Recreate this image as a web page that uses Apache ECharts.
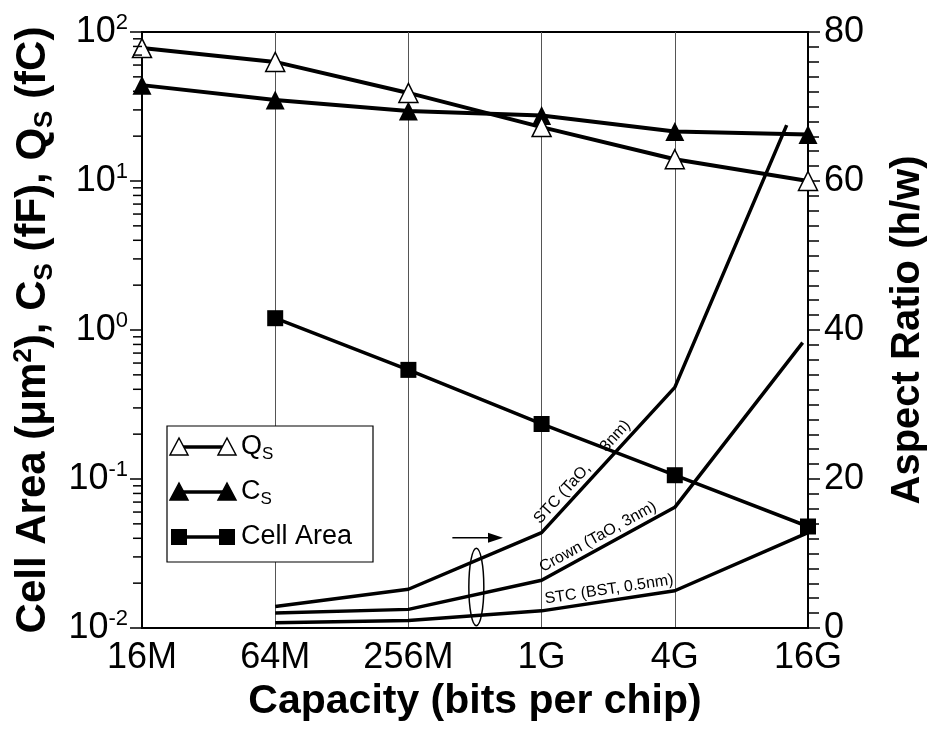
<!DOCTYPE html>
<html>
<head>
<meta charset="utf-8">
<script src="https://cdn.jsdelivr.net/npm/echarts@6/dist/echarts.min.js"></script>
<style>
html, body { margin: 0; padding: 0; background: #fff; }
#chart { width: 947px; height: 739px; }
</style>
</head>
<body>
<div id="chart"></div>
<script>
// Capacity generations along the x axis (placed at integer positions 0..5)
const capacity = ['16M', '64M', '256M', '1G', '4G', '16G'];
const capacityPos = [0, 1, 2, 3, 4, 5];

// Left (log) axis series
const qsValues = [78, 63, 39, 23, 14, 10];          // Qs (fC)
const csValues = [44, 35, 29.5, 27.5, 21.5, 20.5];  // Cs (fF)
const cellAreaPos = [1, 2, 3, 4, 5];
const cellAreaValues = [1.2, 0.54, 0.234, 0.106, 0.048]; // um^2

// Right axis: aspect ratio (h/w) of the storage capacitor
const stcTaoPos = [1, 2, 3, 4, 4.84];
const stcTaoAspect = [2.9, 5.2, 12.8, 32.3, 67.5];
const crownPos = [1, 2, 3, 4, 4.96];
const crownAspect = [2.0, 2.5, 6.4, 16.2, 38.3];
const stcBstPos = [1, 2, 3, 4, 5];
const stcBstAspect = [0.7, 1.0, 2.3, 5.0, 12.8];

// Tick values
const leftTicks = [0.01, 0.1, 1, 10, 100];
const rightTicks = [0, 20, 40, 60, 80];

const FONT = "'Liberation Sans', Arial, Helvetica, sans-serif";
const pairs = (xs, ys) => xs.map((x, i) => [x, ys[i]]);

const chart = echarts.init(document.getElementById('chart'));

const option = {
  animation: false,
  backgroundColor: '#fff',
  grid: {
    left: 142, right: 139, top: 32, bottom: 111,
    show: true, borderColor: '#000', borderWidth: 2, backgroundColor: 'transparent'
  },
  xAxis: {
    type: 'value',
    min: capacityPos[0], max: capacityPos[capacityPos.length - 1], interval: 1,
    name: 'Capacity (bits per chip)',
    nameLocation: 'middle',
    nameGap: 42,
    nameTextStyle: { fontFamily: FONT, fontSize: 41, fontWeight: 'bold', color: '#000' },
    axisLine: { show: true, lineStyle: { color: '#000', width: 2 } },
    axisTick: { show: false },
    axisLabel: {
      margin: 12, fontFamily: FONT, fontSize: 36, color: '#000',
      formatter: v => capacity[Math.round(v)]
    },
    splitLine: { show: true, lineStyle: { color: '#555', width: 1 } }
  },
  yAxis: [
    {
      type: 'log', logBase: 10,
      min: leftTicks[0], max: leftTicks[leftTicks.length - 1],
      position: 'left',
      name: '{t|Cell Area (μm}{sup|2}{t|), C}{sub|S}{t| (fF), Q}{sub|S}{t| (fC)}',
      nameLocation: 'middle',
      nameRotate: 90,
      nameGap: 72,
      nameTextStyle: {
        color: '#000',
        rich: {
          t: { fontFamily: FONT, fontSize: 42, fontWeight: 'bold', lineHeight: 48, color: '#000' },
          sub: { fontFamily: FONT, fontSize: 26, fontWeight: 'bold', lineHeight: 26, padding: [22, 0, 0, 0], color: '#000' },
          sup: { fontFamily: FONT, fontSize: 26, fontWeight: 'bold', lineHeight: 26, padding: [0, 0, 20, 0], color: '#000' }
        }
      },
      axisLine: { show: true, onZero: false, lineStyle: { color: '#000', width: 2 } },
      axisTick: { show: true, inside: false, length: 12, lineStyle: { color: '#000', width: 1.5 } },
      axisLabel: {
        margin: 14,
        formatter: v => '{b|10}{s|' + Math.round(Math.log10(v)) + '}',
        rich: {
          b: { fontFamily: FONT, fontSize: 36, lineHeight: 40, color: '#000' },
          s: { fontFamily: FONT, fontSize: 22, lineHeight: 22, padding: [0, 0, 18, 0], color: '#000' }
        }
      },
      splitLine: { show: false }
    },
    {
      type: 'value',
      min: rightTicks[0], max: rightTicks[rightTicks.length - 1],
      interval: rightTicks[1] - rightTicks[0],
      position: 'right',
      name: 'Aspect Ratio (h/w)',
      nameLocation: 'middle',
      nameRotate: 90,
      nameGap: 80,
      nameTextStyle: { fontFamily: FONT, fontSize: 40, fontWeight: 'bold', color: '#000' },
      axisLine: { show: true, onZero: false, lineStyle: { color: '#000', width: 2 } },
      axisTick: { show: true, inside: false, length: 12, lineStyle: { color: '#000', width: 1.5 } },
      minorTick: { show: true, splitNumber: 10, length: 11, lineStyle: { color: '#000', width: 1.5 } },
      axisLabel: { margin: 16, fontFamily: FONT, fontSize: 36, color: '#000' },
      splitLine: { show: false }
    }
  ],
  series: [
    {
      name: 'STC (TaO, 3nm)', type: 'line', yAxisIndex: 1, z: 2,
      data: pairs(stcTaoPos, stcTaoAspect),
      showSymbol: false, symbol: 'none',
      lineStyle: { color: '#000', width: 3.5 }
    },
    {
      name: 'Crown (TaO, 3nm)', type: 'line', yAxisIndex: 1, z: 2,
      data: pairs(crownPos, crownAspect),
      showSymbol: false, symbol: 'none',
      lineStyle: { color: '#000', width: 3.5 }
    },
    {
      name: 'STC (BST, 0.5nm)', type: 'line', yAxisIndex: 1, z: 2,
      data: pairs(stcBstPos, stcBstAspect),
      showSymbol: false, symbol: 'none',
      lineStyle: { color: '#000', width: 3.5 }
    },
    {
      name: 'Cell Area', type: 'line', yAxisIndex: 0, z: 3,
      data: pairs(cellAreaPos, cellAreaValues),
      symbol: 'rect', symbolSize: 16,
      itemStyle: { color: '#000' },
      lineStyle: { color: '#000', width: 3.5 }
    },
    {
      name: 'Cs', type: 'line', yAxisIndex: 0, z: 4,
      data: pairs(capacityPos, csValues),
      symbol: 'triangle', symbolSize: 19,
      itemStyle: { color: '#000' },
      lineStyle: { color: '#000', width: 4 }
    },
    {
      name: 'Qs', type: 'line', yAxisIndex: 0, z: 5,
      data: pairs(capacityPos, qsValues),
      symbol: 'triangle', symbolSize: 19,
      itemStyle: { color: '#fff', borderColor: '#000', borderWidth: 1.5 },
      lineStyle: { color: '#000', width: 4 }
    }
  ]
};

chart.setOption(option);

// Decorations placed through the axes: log minor ticks, legend, curve names, loop and arrow
const toPx = (x, y) => chart.convertToPixel({ xAxisIndex: 0, yAxisIndex: 1 }, [x, y]);
const gx0 = chart.convertToPixel({ xAxisIndex: 0 }, capacityPos[0]);
const graphics = [];

for (let k = -2; k < 2; k++) {
  for (let m = 2; m <= 9; m++) {
    const y = chart.convertToPixel({ yAxisIndex: 0 }, m * Math.pow(10, k));
    graphics.push({
      type: 'line', z: 10,
      shape: { x1: gx0 - 9, y1: y, x2: gx0, y2: y },
      style: { stroke: '#000', lineWidth: 1.5 }
    });
  }
}

// Curve names written along the 1G-4G segment of each aspect-ratio curve
function curveName(text, xs, ys) {
  const p1 = toPx(xs[2], ys[2]);
  const p2 = toPx(xs[3], ys[3]);
  const dx = p2[0] - p1[0], dy = p2[1] - p1[1];
  const len = Math.hypot(dx, dy);
  const ux = dx / len, uy = dy / len;
  const along = 5, off = 3;
  graphics.push({
    type: 'text', z: 12,
    x: p1[0] + ux * along + uy * off,
    y: p1[1] + uy * along - ux * off,
    rotation: Math.atan2(-dy, dx),
    style: {
      text: text, fontFamily: FONT, fontSize: 16, fill: '#000',
      align: 'left', verticalAlign: 'bottom'
    }
  });
}
curveName('STC (TaO,     3nm)', stcTaoPos, stcTaoAspect);
curveName('Crown (TaO, 3nm)', crownPos, crownAspect);
curveName('STC (BST, 0.5nm)', stcBstPos, stcBstAspect);

// Legend box
const lg = { x: 167, y: 426, w: 206, h: 136 };
graphics.push({
  type: 'rect', z: 20,
  shape: { x: lg.x, y: lg.y, width: lg.w, height: lg.h },
  style: { fill: '#fff', stroke: '#000', lineWidth: 1.2 }
});
const legendRows = [
  { y: 447, kind: 'openTri', text: '{m|Q}{s|S}' },
  { y: 492, kind: 'tri', text: '{m|C}{s|S}' },
  { y: 537, kind: 'rect', text: '{m|Cell Area}' }
];
const legendRich = {
  m: { fontFamily: FONT, fontSize: 27, lineHeight: 30, color: '#000' },
  s: { fontFamily: FONT, fontSize: 17, lineHeight: 17, padding: [14, 0, 0, 0], color: '#000' }
};
legendRows.forEach(r => {
  const xa = lg.x + 12, xb = lg.x + 60;
  graphics.push({
    type: 'line', z: 21,
    shape: { x1: xa, y1: r.y, x2: xb, y2: r.y },
    style: { stroke: '#000', lineWidth: 3.5 }
  });
  [xa, xb].forEach(cx => {
    if (r.kind === 'rect') {
      graphics.push({
        type: 'rect', z: 22,
        shape: { x: cx - 8, y: r.y - 8, width: 16, height: 16 },
        style: { fill: '#000' }
      });
    } else {
      graphics.push({
        type: 'polygon', z: 22,
        shape: { points: [[cx, r.y - 9], [cx + 9, r.y + 8], [cx - 9, r.y + 8]] },
        style: { fill: r.kind === 'tri' ? '#000' : '#fff', stroke: '#000', lineWidth: 1.5 }
      });
    }
  });
  graphics.push({
    type: 'text', z: 22,
    x: lg.x + 74, y: r.y,
    style: { text: r.text, rich: legendRich, verticalAlign: 'middle', align: 'left' }
  });
});

// Loop around the three capacitor curves and the arrow next to it
const loopPos = 2.51, loopTop = 10.7, loopBottom = 0.3;
const pTop = toPx(loopPos, loopTop);
const pBot = toPx(loopPos, loopBottom);
graphics.push({
  type: 'ellipse', z: 15,
  shape: { cx: pTop[0], cy: (pTop[1] + pBot[1]) / 2, rx: 7.5, ry: (pBot[1] - pTop[1]) / 2 },
  style: { fill: 'none', stroke: '#000', lineWidth: 1.5 }
});
const arrowFrom = toPx(2.33, 12.1);
const arrowTo = toPx(2.71, 12.1);
graphics.push({
  type: 'line', z: 15,
  shape: { x1: arrowFrom[0], y1: arrowFrom[1], x2: arrowTo[0] - 10, y2: arrowTo[1] },
  style: { stroke: '#000', lineWidth: 1.5 }
});
graphics.push({
  type: 'polygon', z: 15,
  shape: { points: [[arrowTo[0], arrowTo[1]], [arrowTo[0] - 15, arrowTo[1] - 5], [arrowTo[0] - 15, arrowTo[1] + 5]] },
  style: { fill: '#000' }
});

chart.setOption({ graphic: graphics });
</script>
</body>
</html>
